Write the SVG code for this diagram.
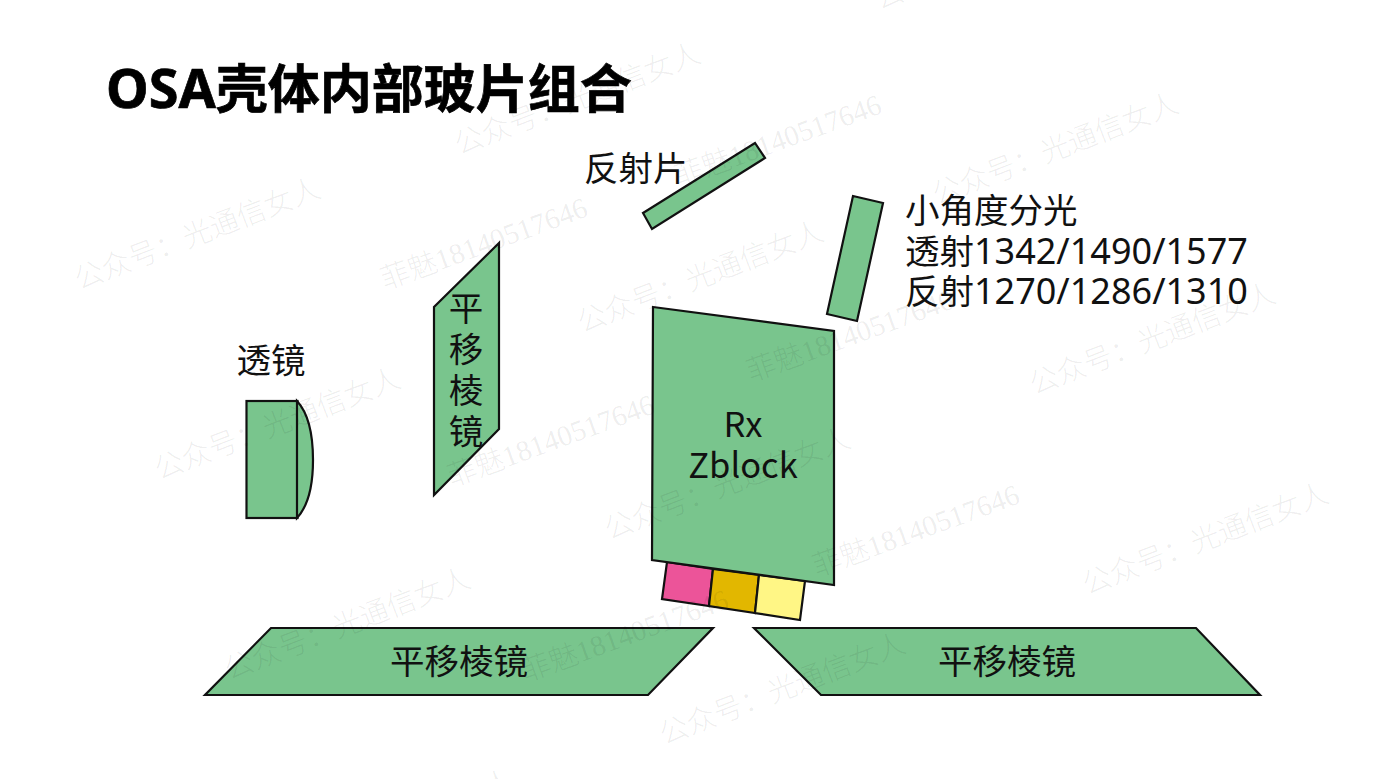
<svg xmlns="http://www.w3.org/2000/svg" width="1384" height="779" viewBox="0 0 1384 779">
<style>
.s{fill:#79c58d;stroke:#111;stroke-width:2.2;stroke-linejoin:miter}
.c{stroke:#111;stroke-width:2.2}
.t{font-family:"Noto Sans CJK SC","Noto Sans",sans-serif;font-size:34.500px;fill:#111}
.l{font-family:"Noto Sans",sans-serif;font-size:36px}
.m{text-anchor:middle}
.w{font-family:"Liberation Serif","Noto Sans CJK SC",serif;font-size:29px;font-weight:300;fill:#000;fill-opacity:.075}
.b{font-family:"Noto Sans CJK SC","Noto Sans",sans-serif;font-size:52px;font-weight:700;fill:#000;stroke:#000;stroke-width:.7}
</style>
<rect width="1384" height="779" fill="#fff"/>
<g id="title"><text class="b" x="106" y="108"><tspan style="font-family:'Noto Sans',sans-serif;font-size:54px">OSA</tspan>壳体内部玻片组合</text></g>
<g id="lens">
<rect class="s" x="246.500" y="401" width="51" height="117"/>
<path class="s" d="M297 401C309 414 313 438 313 460C313 482 309 505 297 518Z"/>
<text class="t m" x="271" y="373">透镜</text>
</g>
<g id="prism-vertical">
<polygon class="s" points="499,243 434,307 434,495 499,429"/>
<text class="t m" x="466" y="321">平</text>
<text class="t m" x="466" y="362">移</text>
<text class="t m" x="466" y="403">棱</text>
<text class="t m" x="466" y="444">镜</text>
</g>
<g id="mirror">
<polygon class="s" points="643,213 755,143 765,158 652,229"/>
<text class="t" x="584" y="181">反射片</text>
</g>
<g id="splitter">
<polygon class="s" points="853,196 883,203 857,321 827,314"/>
<text class="t" x="905" y="223">小角度分光</text>
<text class="t" x="905" y="264">透射<tspan class="l">1342/1490/1577</tspan></text>
<text class="t" x="905" y="304">反射<tspan class="l">1270/1286/1310</tspan></text>
</g>
<g id="rx-zblock">
<polygon class="c" fill="#ec5499" points="667,562 713,569 709,606 662,599"/>
<polygon class="c" fill="#e2b700" points="713,569 759,575 755,613 709,606"/>
<polygon class="c" fill="#fff685" points="759,575 805,581 800,620 755,613"/>
<polygon class="s" points="653,307 834,331 834,585 652,560"/>
<text class="t m" x="743" y="437">Rx</text>
<text class="t m" x="743" y="478">Zblock</text>
</g>
<g id="prism-left">
<polygon class="s" points="271,628 713,628 648,695 205,695"/>
<text class="t m" x="459" y="674">平移棱镜</text>
</g>
<g id="prism-right">
<polygon class="s" points="754,628 1196,628 1260,695 821,695"/>
<text class="t m" x="1007" y="674">平移棱镜</text>
</g>
<g id="watermarks">
<text class="w" transform="translate(79,290) rotate(-21)">公众号：光通信女人</text>
<text class="w" transform="translate(159,480) rotate(-21)">公众号：光通信女人</text>
<text class="w" transform="translate(459,155) rotate(-21)">公众号：光通信女人</text>
<text class="w" transform="translate(582,333) rotate(-21)">公众号：光通信女人</text>
<text class="w" transform="translate(609,540) rotate(-21)">公众号：光通信女人</text>
<text class="w" transform="translate(937,205) rotate(-21)">公众号：光通信女人</text>
<text class="w" transform="translate(1034,395) rotate(-21)">公众号：光通信女人</text>
<text class="w" transform="translate(1087,595) rotate(-21)">公众号：光通信女人</text>
<text class="w" transform="translate(229,680) rotate(-21)">公众号：光通信女人</text>
<text class="w" transform="translate(664,745) rotate(-21)">公众号：光通信女人</text>
<text class="w" transform="translate(879,10) rotate(-21)">公众号：光通信女人</text>
<text class="w" transform="translate(272,882) rotate(-21)">公众号：光通信女人</text>
<text class="w" transform="translate(385,290) rotate(-20)">菲魅18140517646</text>
<text class="w" transform="translate(751,382) rotate(-20)">菲魅18140517646</text>
<text class="w" transform="translate(452,487) rotate(-20)">菲魅18140517646</text>
<text class="w" transform="translate(817,577) rotate(-20)">菲魅18140517646</text>
<text class="w" transform="translate(526,682) rotate(-20)">菲魅18140517646</text>
<text class="w" transform="translate(679,187) rotate(-20)">菲魅18140517646</text>
</g>
</svg>
